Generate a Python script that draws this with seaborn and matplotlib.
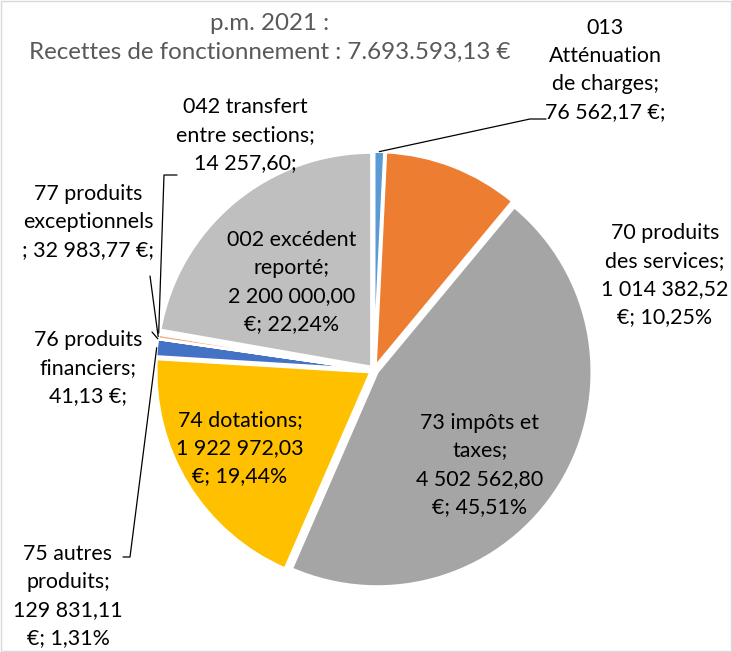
import numpy as np
import seaborn as sns
import matplotlib.pyplot as plt
from matplotlib.patches import Rectangle

# Data (clockwise from 12 o'clock)
categories = ["013 Atténuation de charges", "70 produits des services", "73 impôts et taxes",
              "74 dotations", "75 autres produits", "76 produits financiers",
              "77 produits exceptionnels", "042 transfert entre sections", "002 excédent reporté"]
values = [76562.17, 1014382.52, 4502562.80, 1922972.03, 129831.11, 41.13, 32983.77, 14257.60, 2200000.00]
labels = ["013\nAtténuation\nde charges;\n76 562,17 €;",
          "70 produits\ndes services;\n1 014 382,52\n€; 10,25%",
          "73 impôts et\ntaxes;\n4 502 562,80\n€; 45,51%",
          "74 dotations;\n1 922 972,03\n€; 19,44%",
          "75 autres\nproduits;\n129 831,11\n€; 1,31%",
          "76 produits\nfinanciers;\n41,13 €;",
          "77 produits\nexceptionnels\n; 32 983,77 €;",
          "042 transfert\nentre sections;\n14 257,60;",
          "002 excédent\nreporté;\n2 200 000,00\n€; 22,24%"]
colors = ["#5B9BD5", "#ED7D31", "#A5A5A5", "#FFC000", "#4472C4", "#70AD47", "#F4B183", "#9DC3E6", "#BFBFBF"]
title = "p.m. 2021 :\nRecettes de fonctionnement : 7.693.593,13 €"


class Layout:
    W, H, DPI = 7.32, 6.52, 100
    PX = 215.0  # pixels per unit radius
    CX, CY = 374, 370  # pie centre in pixels
    RADIUS = 0.998
    EXPLODE = 0.018
    FONT = "Lato"
    FONTSIZE = 15.4
    TITLE_FONTSIZE = 17.4


def px(x, y):
    # pixel position (from top left) -> data coordinates
    return (x - Layout.CX) / Layout.PX, (Layout.CY - y) / Layout.PX


# label centres (pixels) and leader polylines ending points (pixels)
label_pos = [(605, 70), (665, 275), (480, 465), (240, 448), (68, 596),
             (88, 368), (88, 222), (245, 135), (292, 282)]
leaders = {0: [(530, 119), (546, 119)],
           4: [(130, 557), (123, 557)],
           5: [(152, 332)],
           6: [(150, 276)],
           7: [(164, 175), (177, 175)]}

sns.set_theme(style="white")
plt.rcParams['font.family'] = [Layout.FONT, 'DejaVu Sans']

fig = plt.figure(figsize=(Layout.W, Layout.H), dpi=Layout.DPI)
ax = fig.add_axes([0, 0, 1, 1])
x0, y1 = px(0, 0)
x1, y0 = px(Layout.W * Layout.DPI, Layout.H * Layout.DPI)

wedges, _ = ax.pie(values, colors=sns.color_palette(colors), startangle=90, counterclock=False,
                   radius=Layout.RADIUS, explode=[Layout.EXPLODE] * len(values),
                   wedgeprops=dict(edgecolor="white", linewidth=2.0), frame=False)
ax.set_xlim(x0, x1)
ax.set_ylim(y0, y1)
ax.set_aspect("auto")
ax.axis("off")

for i, w in enumerate(wedges):
    lx, ly = px(*label_pos[i])
    ax.text(lx, ly, labels[i], ha="center", va="center", fontsize=Layout.FONTSIZE,
            color="#000000", linespacing=1.5)
    if i in leaders:
        mid = np.deg2rad((w.theta1 + w.theta2) / 2)
        cx, cy = w.center
        pts = [(cx + w.r * np.cos(mid), cy + w.r * np.sin(mid))] + [px(*p) for p in leaders[i]]
        xs, ys = zip(*pts)
        ax.plot(xs, ys, color="black", linewidth=0.9)

tx, ty = px(270, 38)
ax.text(tx, ty, title, ha="center", va="center", fontsize=Layout.TITLE_FONTSIZE,
        color="#595959", linespacing=1.44)

fig.patches.append(Rectangle((0.001, 0.001), 0.997, 0.997, transform=fig.transFigure,
                             fill=False, edgecolor="#D9D9D9", linewidth=1.0))

fig.savefig("out.png", dpi=Layout.DPI)
